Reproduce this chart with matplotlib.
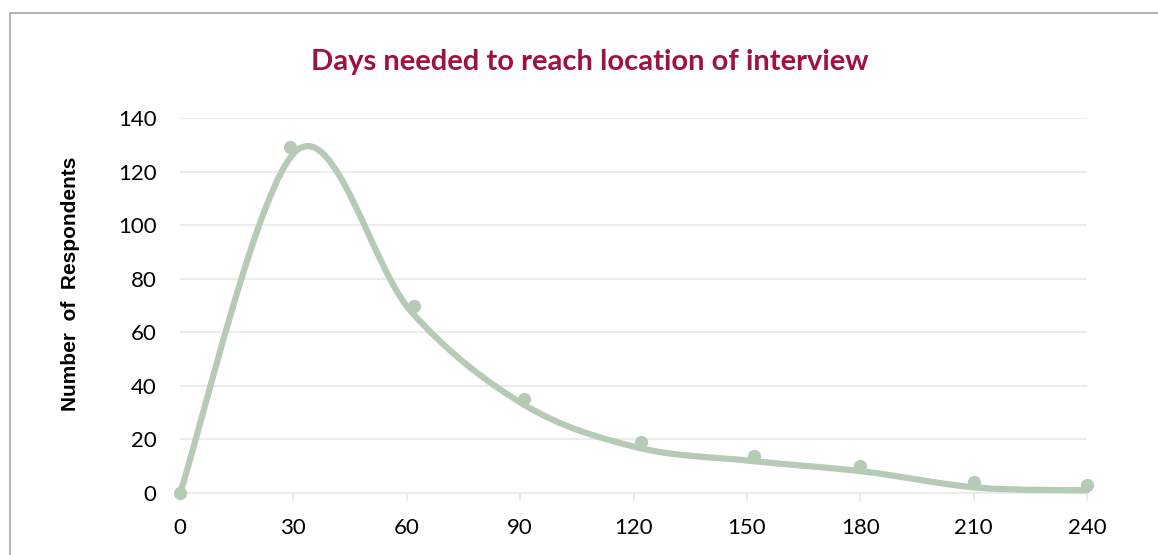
import matplotlib
matplotlib.use("Agg")
import matplotlib.pyplot as plt
from matplotlib.path import Path
from matplotlib.patches import PathPatch, Rectangle
import numpy as np

# data points (markers)
days = [0, 29, 62, 91, 122, 152, 180, 210, 240]
respondents = [0, 129, 70, 35, 19, 14, 10, 4, 3]

# knots of the smoothed line drawn through the chart
curve_days = [0, 31, 61, 91, 121, 151, 181, 211, 240]
curve_vals = [0, 128, 68, 33, 17, 12, 8, 2, 1]

x_ticks = [0, 30, 60, 90, 120, 150, 180, 210, 240]
y_ticks = [0, 20, 40, 60, 80, 100, 120, 140]

line_color = "#b5cbb6"
title_color = "#a0113e"


def smooth_path(xs, ys, k=1 / 6):
    # Excel-style smoothed line: cubic bezier segments through the knots
    pts = np.column_stack([xs, ys]).astype(float)
    n = len(pts)
    verts = [pts[0]]
    codes = [Path.MOVETO]
    for i in range(n - 1):
        p0 = pts[i - 1] if i > 0 else pts[i]
        p1 = pts[i]
        p2 = pts[i + 1]
        p3 = pts[i + 2] if i + 2 < n else pts[i + 1]
        c1 = p1 + (p2 - p0) * k
        c2 = p2 - (p3 - p1) * k
        verts += [c1, c2, p2]
        codes += [Path.CURVE4] * 3
    return Path(verts, codes)


fig = plt.figure(figsize=(11.58, 5.55), dpi=100)
fig.patches.append(Rectangle((10 / 1158, -0.1), 1.2, 1.1 - 12.5 / 555,
                             transform=fig.transFigure, fill=False,
                             edgecolor="#a6a6a6", linewidth=1.2))

ax = fig.add_axes([180 / 1158, 1 - 493 / 555, 907 / 1158, 375 / 555])
ax.set_xlim(0, 240)
ax.set_ylim(0, 140)

ax.add_patch(PathPatch(smooth_path(curve_days, curve_vals), fill=False,
                       edgecolor=line_color, linewidth=4.5,
                       capstyle="round", zorder=3, clip_on=False))
ax.plot(days, respondents, "o", color=line_color, markersize=8.5,
        zorder=4, clip_on=False)

ax.set_xticks(x_ticks)
ax.set_yticks(y_ticks)
ax.tick_params(axis="x", length=6, width=1.2, color="#e6e6e6", pad=12,
               labelsize=16)
ax.tick_params(axis="y", length=0, pad=17, labelsize=16)
for lab in ax.get_xticklabels() + ax.get_yticklabels():
    lab.set_fontfamily("Lato")

ax.grid(axis="y", color="#ececec", linewidth=1.5)
ax.set_axisbelow(True)
for s in ["top", "right", "left"]:
    ax.spines[s].set_visible(False)
ax.spines["bottom"].set_color("#ececec")
ax.spines["bottom"].set_linewidth(1.5)

fig.text(590 / 1158, 1 - 62 / 555, "Days needed to reach location of interview",
         ha="center", va="center", fontsize=21, fontweight="bold",
         fontfamily="Lato", color=title_color)
fig.text(70 / 1158, 1 - 284 / 555, "Number  of  Respondents", rotation=90,
         ha="center", va="center", fontsize=15, fontweight="bold",
         fontfamily="Liberation Sans")

fig.savefig("out.png", dpi=100)
